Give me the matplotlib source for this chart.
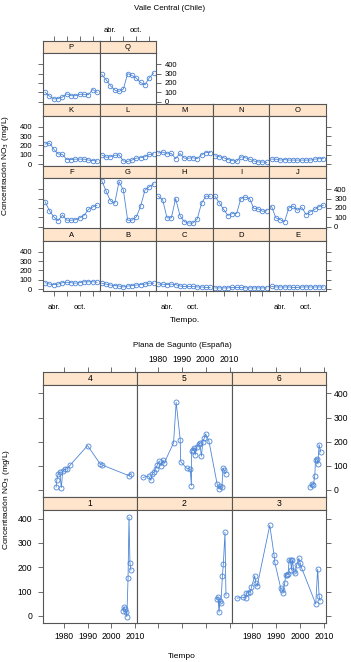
import numpy as np
import matplotlib.pyplot as plt

plt.rcParams['font.family'] = ['Liberation Sans', 'DejaVu Sans']

# ---- Valle Central (Chile): monthly series per well ----
meses = ['feb.', 'mar.', 'abr.', 'may.', 'jun.', 'jul.', 'ago.', 'sep.', 'oct.', 'nov.', 'dic.', 'ene.', 'feb.']
mes_ticks = ['abr.', 'jul.', 'oct.', 'ene.']
mes_ticklabels = ['abr.', '', 'oct.', '']

pozo_A = [70, 55, 50, 55, 70, 75, 70, 65, 70, 80, 80, 80, 75]
pozo_B = [65, 55, 45, 40, 35, 25, 35, 40, 45, 50, 55, 65, 65]
pozo_C = [55, 55, 50, 55, 50, 35, 30, 30, 30, 25, 25, 20, 20]
pozo_D = [15, 15, 15, 15, 20, 20, 20, 15, 15, 15, 15, 15, 15]
pozo_E = [30, 25, 25, 25, 25, 20, 20, 25, 25, 25, 25, 25, 25]
pozo_F = [265, 170, 105, 65, 125, 70, 70, 75, 95, 120, 185, 210, 230]
pozo_G = [490, 380, 275, 250, 480, 390, 70, 70, 105, 220, 390, 425, 455]
pozo_H = [325, 285, 95, 95, 300, 120, 55, 40, 40, 85, 250, 325, 325]
pozo_I = [325, 255, 185, 120, 140, 140, 300, 315, 300, 195, 190, 165, 170]
pozo_J = [215, 95, 75, 55, 200, 220, 175, 205, 130, 160, 185, 215, 230]
pozo_K = [215, 225, 160, 110, 105, 50, 50, 55, 55, 55, 45, 40, 35]
pozo_L = [100, 75, 80, 95, 100, 35, 30, 45, 65, 70, 80, 105, 110]
pozo_M = [120, 130, 110, 115, 60, 115, 65, 65, 70, 60, 100, 125, 125]
pozo_N = [90, 80, 70, 50, 40, 30, 80, 70, 55, 35, 25, 25, 20]
pozo_O = [55, 55, 45, 50, 45, 45, 45, 45, 45, 45, 55, 60, 60]
pozo_P = [100, 60, 30, 35, 50, 85, 65, 65, 80, 80, 75, 130, 100]
pozo_Q = [290, 235, 170, 125, 110, 135, 300, 280, 250, 205, 180, 255, 305]

# ---- Plana de Sagunto (Espana) ----
anios_1 = [2004.9, 2005.3, 2005.8, 2006.2, 2006.5, 2007.0, 2007.4, 2007.8, 2008.2]
nitr_1 = [22, 38, 28, 15, -3, 155, 405, 218, 188]
anios_2 = [2004.6, 2005.2, 2005.6, 2006.0, 2006.4, 2007.0, 2007.4, 2008.1, 2008.5]
nitr_2 = [70, 78, 15, 60, 55, 162, 213, 343, 84]
anios_3 = [1973.5, 1976.1, 1977.2, 1977.5, 1978.2, 1979.2, 1979.6, 1981.0, 1981.4, 1982.0,
           1987.3, 1989.1, 1989.4, 1991.9, 1992.6, 1992.9, 1993.6, 1994.0, 1994.6, 1995.0,
           1995.4, 1996.0, 1996.4, 1996.8, 1997.4, 1997.9, 1998.6, 1999.5, 2000.0, 2000.7,
           2006.6, 2007.4, 2008.0, 2008.4]
nitr_3 = [73, 77, 73, 93, 96, 100, 118, 165, 135, 123,
          372, 250, 220, 114, 107, 96, 137, 169, 169, 172,
          230, 230, 189, 230, 183, 178, 210, 237, 219, 196,
          49, 192, 82, 63]
anios_4 = [1976.8, 1977.1, 1977.6, 1978.3, 1979.0, 1979.6, 1980.5, 1981.5, 1982.7,
           1990.0, 1995.3, 1996.0, 2007.2, 2008.3]
nitr_4 = [12, 40, 65, 75, 10, 80, 85, 88, 103, 184, 108, 104, 60, 68]
anios_5 = [1973.7, 1976.0, 1977.0, 1977.6, 1978.3, 1979.0, 1979.7, 1980.5, 1981.3, 1982.0,
           1982.5, 1986.5, 1987.6, 1989.3, 1989.5, 1992.0, 1993.5, 1994.0, 1994.1, 1994.6,
           1995.0, 1995.6, 1996.3, 1997.0, 1997.5, 1998.2, 1998.8, 1999.4, 2000.0, 2001.3,
           2004.8, 2005.5, 2006.2, 2006.8, 2007.3, 2007.8, 2008.4]
nitr_5 = [52, 58, 40, 68, 75, 88, 105, 120, 100, 125,
          110, 195, 363, 209, 118, 90, 86, 18, 160, 165,
          175, 145, 180, 190, 195, 140, 200, 215, 232, 205,
          25, 5, 15, 12, 90, 82, 68]
anios_6 = [2004.2, 2005.0, 2005.6, 2006.2, 2006.5, 2007.0, 2007.5, 2008.0, 2008.7]
nitr_6 = [12, 25, 20, 60, 125, 130, 108, 188, 157]

y_ticks = [0, 100, 200, 300, 400]
anio_ticks = [1980, 1990, 2000, 2010]

W, H = 351, 662
fig = plt.figure(figsize=(W / 100, H / 100), dpi=100)

STRIP = '#ffe5cc'
BLUE = '#4d86d6'
EDGE = '#555555'


def box(x0, y0, x1, y1):
    return [x0 / W, 1 - y1 / H, (x1 - x0) / W, (y1 - y0) / H]


def make_panel(x0, x1, top, sh, bottom, name, xs, ys, xlim, ylim, fs, ms):
    ax_s = fig.add_axes(box(x0, top, x1, top + sh))
    ax = fig.add_axes(box(x0, top + sh, x1, bottom))
    ax_s.set_facecolor(STRIP)
    ax_s.set_xlim(xlim)
    ax_s.set_yticks([])
    ax_s.text(0.5, 0.45, name, transform=ax_s.transAxes, ha='center', va='center', fontsize=fs)
    ax.plot(xs, ys, '-o', color=BLUE, lw=0.6, ms=ms, mfc='none', mew=0.6)
    ax.set_xlim(xlim)
    ax.set_ylim(ylim)
    ax.set_yticks(y_ticks)
    for a in (ax, ax_s):
        for s in a.spines.values():
            s.set_color(EDGE)
            s.set_linewidth(0.8)
        a.tick_params(which='both', bottom=False, top=False, left=False, right=False,
                      labelbottom=False, labeltop=False, labelleft=False, labelright=False,
                      direction='out', length=3.4, width=0.6, color=EDGE, labelsize=fs)
    return ax, ax_s


# ---------------- Valle Central ----------------
chile_rows = [['P', 'Q'], ['K', 'L', 'M', 'N', 'O'], ['F', 'G', 'H', 'I', 'J'], ['A', 'B', 'C', 'D', 'E']]
chile_data = {'A': pozo_A, 'B': pozo_B, 'C': pozo_C, 'D': pozo_D, 'E': pozo_E,
              'F': pozo_F, 'G': pozo_G, 'H': pozo_H, 'I': pozo_I, 'J': pozo_J,
              'K': pozo_K, 'L': pozo_L, 'M': pozo_M, 'N': pozo_N, 'O': pozo_O,
              'P': pozo_P, 'Q': pozo_Q}
xm = np.arange(len(meses))
xt = [meses.index(m) for m in mes_ticks]
cw = (326 - 43) / 5
for r, row in enumerate(chile_rows):
    top = 41 + r * 62.5
    for c, name in enumerate(row):
        x0 = 43 + c * cw
        ax, ax_s = make_panel(x0, x0 + cw, top, 12.3, top + 62.5, name, xm, chile_data[name],
                              (-0.5, 12.6), (-18, 515), 5.5, 3.3)
        ax.set_xticks(xt)
        ax_s.set_xticks(xt)
        ax.set_xticklabels(mes_ticklabels)
        ax_s.set_xticklabels(mes_ticklabels)
        last = c == len(row) - 1
        lab_right = r % 2 == 0
        ax.tick_params(axis='y', left=(c == 0), right=last,
                       labelleft=(c == 0 and not lab_right), labelright=(last and lab_right))
        ax.tick_params(axis='y', which='major', pad=2.5 if lab_right else 4.5)
        if r == 3:
            ax.tick_params(axis='x', bottom=True, labelbottom=(c % 2 == 0), pad=6)
        if r == 0:
            ax_s.tick_params(axis='x', top=True, labeltop=(c % 2 == 1), pad=2)

fig.text(170 / W, 1 - 8 / H, 'Valle Central (Chile)', ha='center', va='center', fontsize=5.8)
fig.text(185 / W, 1 - 321 / H, 'Tiempo.', ha='center', va='center', fontsize=6)
fig.text(6 / W, 1 - 166 / H, 'Concentración NO$_3$ (mg/L)', rotation=90,
         ha='center', va='center', fontsize=6)

# ---------------- Plana de Sagunto ----------------
sag_rows = [['4', '5', '6'], ['1', '2', '3']]
sag_data = {'1': (anios_1, nitr_1), '2': (anios_2, nitr_2), '3': (anios_3, nitr_3),
            '4': (anios_4, nitr_4), '5': (anios_5, nitr_5), '6': (anios_6, nitr_6)}
cw2 = (326 - 43) / 3
row_tops = [372, 497, 623]
for r, row in enumerate(sag_rows):
    top = row_tops[r]
    for c, name in enumerate(row):
        x0 = 43 + c * cw2
        xs, ys = sag_data[name]
        ax, ax_s = make_panel(x0, x0 + cw2, top, 12.5, row_tops[r + 1], name, xs, ys,
                              (1971.3, 2010.9), (-29, 437), 6.2, 3.6)
        ax.set_xticks(anio_ticks)
        ax_s.set_xticks(anio_ticks)
        last = c == 2
        lab_right = r == 0
        ax.tick_params(axis='y', left=(c == 0), right=last,
                       labelleft=(c == 0 and not lab_right), labelright=(last and lab_right))
        ax.tick_params(axis='y', which='major', pad=2 if lab_right else 4.5)
        if r == 1:
            ax.tick_params(axis='x', bottom=True, labelbottom=(c % 2 == 0), pad=3)
        if r == 0:
            ax_s.tick_params(axis='x', top=True, labeltop=(c % 2 == 1), pad=2)

fig.text(182 / W, 1 - 345 / H, 'Plana de Sagunto (España)', ha='center', va='center', fontsize=5.8)
fig.text(182 / W, 1 - 656 / H, 'Tiempo', ha='center', va='center', fontsize=6)
fig.text(7 / W, 1 - 500 / H, 'Concentración NO$_3$ (mg/L)', rotation=90,
         ha='center', va='center', fontsize=6)

fig.savefig('out.png', dpi=100)
